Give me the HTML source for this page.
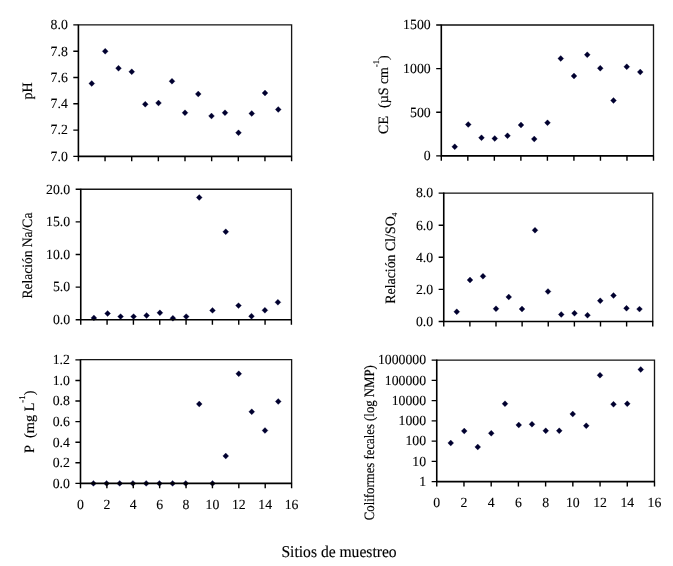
<!DOCTYPE html>
<html><head><meta charset="utf-8"><title>Chart</title>
<style>
html,body{margin:0;padding:0;background:#fff;}
body{width:673px;height:566px;overflow:hidden;}
svg{display:block;}
text{font-family:"Liberation Serif", serif;fill:#000;stroke:#000;stroke-width:0.1;text-rendering:geometricPrecision;}
</style></head><body>
<svg width="673" height="566" viewBox="0 0 673 566" font-size="14.0">
<defs><filter id="soft" x="0" y="0" width="673" height="566" filterUnits="userSpaceOnUse"><feGaussianBlur stdDeviation="0.35"/></filter><filter id="psoft" x="0" y="0" width="673" height="566" filterUnits="userSpaceOnUse"><feGaussianBlur stdDeviation="0.5"/></filter></defs>
<rect width="673" height="566" fill="#fff"/>
<g filter="url(#soft)">
<path d="M78.4 24.9H291.6V156.4" fill="none" stroke="#151515" stroke-width="1.3"/>
<path d="M78.4 24.4V156.4H292.1" fill="none" stroke="#000" stroke-width="1.6"/>
<path d="M73.30 24.9H78.4M73.30 51.2H78.4M73.30 77.5H78.4M73.30 103.8H78.4M73.30 130.1H78.4M73.30 156.4H78.4M78.40 156.4V161.30M105.05 156.4V161.30M131.70 156.4V161.30M158.35 156.4V161.30M185.00 156.4V161.30M211.65 156.4V161.30M238.30 156.4V161.30M264.95 156.4V161.30M291.60 156.4V161.30" fill="none" stroke="#000" stroke-width="1.4"/>
<text transform="translate(67.80 29.20) scale(0.985 1)" text-anchor="end">8.0</text>
<text transform="translate(67.80 55.50) scale(0.985 1)" text-anchor="end">7.8</text>
<text transform="translate(67.80 81.80) scale(0.985 1)" text-anchor="end">7.6</text>
<text transform="translate(67.80 108.10) scale(0.985 1)" text-anchor="end">7.4</text>
<text transform="translate(67.80 134.40) scale(0.985 1)" text-anchor="end">7.2</text>
<text transform="translate(67.80 160.70) scale(0.985 1)" text-anchor="end">7.0</text>
<g filter="url(#psoft)" fill="#00002e" stroke="#00003a" stroke-width="0.3"><path d="M91.75 80.55L94.70 83.50L91.75 86.45L88.80 83.50Z"/><path d="M105.20 48.35L108.15 51.30L105.20 54.25L102.25 51.30Z"/><path d="M118.50 65.30L121.45 68.25L118.50 71.20L115.55 68.25Z"/><path d="M131.75 68.80L134.70 71.75L131.75 74.70L128.80 71.75Z"/><path d="M145.25 101.30L148.20 104.25L145.25 107.20L142.30 104.25Z"/><path d="M158.50 100.05L161.45 103.00L158.50 105.95L155.55 103.00Z"/><path d="M172.00 78.30L174.95 81.25L172.00 84.20L169.05 81.25Z"/><path d="M185.00 109.80L187.95 112.75L185.00 115.70L182.05 112.75Z"/><path d="M198.25 91.05L201.20 94.00L198.25 96.95L195.30 94.00Z"/><path d="M211.50 113.05L214.45 116.00L211.50 118.95L208.55 116.00Z"/><path d="M225.00 109.80L227.95 112.75L225.00 115.70L222.05 112.75Z"/><path d="M238.50 129.80L241.45 132.75L238.50 135.70L235.55 132.75Z"/><path d="M251.75 110.55L254.70 113.50L251.75 116.45L248.80 113.50Z"/><path d="M265.00 90.05L267.95 93.00L265.00 95.95L262.05 93.00Z"/><path d="M278.25 106.55L281.20 109.50L278.25 112.45L275.30 109.50Z"/></g>
<path d="M441.3 25H653.5V155.9" fill="none" stroke="#151515" stroke-width="1.3"/>
<path d="M441.3 24.5V155.9H654.0" fill="none" stroke="#000" stroke-width="1.6"/>
<path d="M436.20 25.0H441.3M436.20 68.63H441.3M436.20 112.27H441.3M436.20 155.9H441.3M441.30 155.9V160.80M467.82 155.9V160.80M494.35 155.9V160.80M520.88 155.9V160.80M547.40 155.9V160.80M573.92 155.9V160.80M600.45 155.9V160.80M626.98 155.9V160.80M653.50 155.9V160.80" fill="none" stroke="#000" stroke-width="1.4"/>
<text transform="translate(430.70 29.30) scale(0.985 1)" text-anchor="end">1500</text>
<text transform="translate(430.70 72.93) scale(0.985 1)" text-anchor="end">1000</text>
<text transform="translate(430.70 116.57) scale(0.985 1)" text-anchor="end">500</text>
<text transform="translate(430.70 160.20) scale(0.985 1)" text-anchor="end">0</text>
<g filter="url(#psoft)" fill="#00002e" stroke="#00003a" stroke-width="0.3"><path d="M454.75 143.80L457.70 146.75L454.75 149.70L451.80 146.75Z"/><path d="M468.25 121.55L471.20 124.50L468.25 127.45L465.30 124.50Z"/><path d="M481.50 134.80L484.45 137.75L481.50 140.70L478.55 137.75Z"/><path d="M494.75 135.55L497.70 138.50L494.75 141.45L491.80 138.50Z"/><path d="M507.50 132.80L510.45 135.75L507.50 138.70L504.55 135.75Z"/><path d="M521.00 122.05L523.95 125.00L521.00 127.95L518.05 125.00Z"/><path d="M534.25 136.05L537.20 139.00L534.25 141.95L531.30 139.00Z"/><path d="M547.50 119.80L550.45 122.75L547.50 125.70L544.55 122.75Z"/><path d="M560.75 55.55L563.70 58.50L560.75 61.45L557.80 58.50Z"/><path d="M574.00 73.05L576.95 76.00L574.00 78.95L571.05 76.00Z"/><path d="M587.25 51.80L590.20 54.75L587.25 57.70L584.30 54.75Z"/><path d="M600.25 65.30L603.20 68.25L600.25 71.20L597.30 68.25Z"/><path d="M613.50 97.55L616.45 100.50L613.50 103.45L610.55 100.50Z"/><path d="M626.75 63.80L629.70 66.75L626.75 69.70L623.80 66.75Z"/><path d="M640.25 69.05L643.20 72.00L640.25 74.95L637.30 72.00Z"/></g>
<path d="M80.75 189.25H291.4V319.8" fill="none" stroke="#151515" stroke-width="1.3"/>
<g filter="url(#psoft)" fill="#00002e" stroke="#00003a" stroke-width="0.3"><path d="M93.90 314.95L96.85 317.90L93.90 320.85L90.95 317.90Z"/><path d="M107.60 310.55L110.55 313.50L107.60 316.45L104.65 313.50Z"/><path d="M120.60 313.65L123.55 316.60L120.60 319.55L117.65 316.60Z"/><path d="M133.60 313.65L136.55 316.60L133.60 319.55L130.65 316.60Z"/><path d="M146.60 312.55L149.55 315.50L146.60 318.45L143.65 315.50Z"/><path d="M159.90 309.85L162.85 312.80L159.90 315.75L156.95 312.80Z"/><path d="M172.90 315.35L175.85 318.30L172.90 321.25L169.95 318.30Z"/><path d="M186.20 313.65L189.15 316.60L186.20 319.55L183.25 316.60Z"/><path d="M199.25 194.55L202.20 197.50L199.25 200.45L196.30 197.50Z"/><path d="M212.50 307.45L215.45 310.40L212.50 313.35L209.55 310.40Z"/><path d="M225.75 228.80L228.70 231.75L225.75 234.70L222.80 231.75Z"/><path d="M238.50 302.65L241.45 305.60L238.50 308.55L235.55 305.60Z"/><path d="M251.50 313.25L254.45 316.20L251.50 319.15L248.55 316.20Z"/><path d="M264.90 307.35L267.85 310.30L264.90 313.25L261.95 310.30Z"/><path d="M277.90 299.35L280.85 302.30L277.90 305.25L274.95 302.30Z"/></g>
<path d="M80.75 188.75V319.8H291.9" fill="none" stroke="#000" stroke-width="1.6"/>
<path d="M75.65 189.25H80.75M75.65 221.89H80.75M75.65 254.53H80.75M75.65 287.16H80.75M75.65 319.8H80.75M80.75 319.8V324.70M107.08 319.8V324.70M133.41 319.8V324.70M159.74 319.8V324.70M186.07 319.8V324.70M212.41 319.8V324.70M238.74 319.8V324.70M265.07 319.8V324.70M291.40 319.8V324.70" fill="none" stroke="#000" stroke-width="1.4"/>
<text transform="translate(70.15 193.55) scale(0.985 1)" text-anchor="end">20.0</text>
<text transform="translate(70.15 226.19) scale(0.985 1)" text-anchor="end">15.0</text>
<text transform="translate(70.15 258.83) scale(0.985 1)" text-anchor="end">10.0</text>
<text transform="translate(70.15 291.46) scale(0.985 1)" text-anchor="end">5.0</text>
<text transform="translate(70.15 324.10) scale(0.985 1)" text-anchor="end">0.0</text>
<path d="M443.75 193.1H652.75V321.5" fill="none" stroke="#151515" stroke-width="1.3"/>
<path d="M443.75 192.6V321.5H653.25" fill="none" stroke="#000" stroke-width="1.6"/>
<path d="M438.65 193.1H443.75M438.65 225.2H443.75M438.65 257.3H443.75M438.65 289.4H443.75M438.65 321.5H443.75M443.75 321.5V326.40M469.88 321.5V326.40M496.00 321.5V326.40M522.12 321.5V326.40M548.25 321.5V326.40M574.38 321.5V326.40M600.50 321.5V326.40M626.62 321.5V326.40M652.75 321.5V326.40" fill="none" stroke="#000" stroke-width="1.4"/>
<text transform="translate(433.15 197.40) scale(0.985 1)" text-anchor="end">8.0</text>
<text transform="translate(433.15 229.50) scale(0.985 1)" text-anchor="end">6.0</text>
<text transform="translate(433.15 261.60) scale(0.985 1)" text-anchor="end">4.0</text>
<text transform="translate(433.15 293.70) scale(0.985 1)" text-anchor="end">2.0</text>
<text transform="translate(433.15 325.80) scale(0.985 1)" text-anchor="end">0.0</text>
<g filter="url(#psoft)" fill="#00002e" stroke="#00003a" stroke-width="0.3"><path d="M456.75 308.80L459.70 311.75L456.75 314.70L453.80 311.75Z"/><path d="M470.00 277.05L472.95 280.00L470.00 282.95L467.05 280.00Z"/><path d="M483.00 273.30L485.95 276.25L483.00 279.20L480.05 276.25Z"/><path d="M496.00 305.80L498.95 308.75L496.00 311.70L493.05 308.75Z"/><path d="M508.75 294.05L511.70 297.00L508.75 299.95L505.80 297.00Z"/><path d="M522.00 306.05L524.95 309.00L522.00 311.95L519.05 309.00Z"/><path d="M535.00 227.30L537.95 230.25L535.00 233.20L532.05 230.25Z"/><path d="M548.00 288.55L550.95 291.50L548.00 294.45L545.05 291.50Z"/><path d="M561.25 311.55L564.20 314.50L561.25 317.45L558.30 314.50Z"/><path d="M574.50 310.30L577.45 313.25L574.50 316.20L571.55 313.25Z"/><path d="M587.50 312.30L590.45 315.25L587.50 318.20L584.55 315.25Z"/><path d="M600.25 297.80L603.20 300.75L600.25 303.70L597.30 300.75Z"/><path d="M613.50 292.55L616.45 295.50L613.50 298.45L610.55 295.50Z"/><path d="M626.50 305.35L629.45 308.30L626.50 311.25L623.55 308.30Z"/><path d="M639.50 306.15L642.45 309.10L639.50 312.05L636.55 309.10Z"/></g>
<path d="M80.5 359.7H291.6V483.4" fill="none" stroke="#151515" stroke-width="1.3"/>
<g filter="url(#psoft)" fill="#00002e" stroke="#00003a" stroke-width="0.3"><path d="M93.40 480.45L96.35 483.40L93.40 486.35L90.45 483.40Z"/><path d="M106.60 480.45L109.55 483.40L106.60 486.35L103.65 483.40Z"/><path d="M119.70 480.45L122.65 483.40L119.70 486.35L116.75 483.40Z"/><path d="M132.90 480.45L135.85 483.40L132.90 486.35L129.95 483.40Z"/><path d="M146.20 480.45L149.15 483.40L146.20 486.35L143.25 483.40Z"/><path d="M159.40 480.45L162.35 483.40L159.40 486.35L156.45 483.40Z"/><path d="M172.60 480.45L175.55 483.40L172.60 486.35L169.65 483.40Z"/><path d="M185.75 480.45L188.70 483.40L185.75 486.35L182.80 483.40Z"/><path d="M199.25 401.05L202.20 404.00L199.25 406.95L196.30 404.00Z"/><path d="M212.50 480.45L215.45 483.40L212.50 486.35L209.55 483.40Z"/><path d="M225.75 453.05L228.70 456.00L225.75 458.95L222.80 456.00Z"/><path d="M238.75 370.80L241.70 373.75L238.75 376.70L235.80 373.75Z"/><path d="M251.75 408.80L254.70 411.75L251.75 414.70L248.80 411.75Z"/><path d="M265.00 427.55L267.95 430.50L265.00 433.45L262.05 430.50Z"/><path d="M278.25 398.55L281.20 401.50L278.25 404.45L275.30 401.50Z"/></g>
<path d="M80.5 359.2V483.4H292.1" fill="none" stroke="#000" stroke-width="1.6"/>
<path d="M75.40 359.9H80.5M75.40 380.48H80.5M75.40 401.07H80.5M75.40 421.65H80.5M75.40 442.23H80.5M75.40 462.82H80.5M75.40 483.4H80.5M80.50 483.4V488.30M106.89 483.4V488.30M133.28 483.4V488.30M159.66 483.4V488.30M186.05 483.4V488.30M212.44 483.4V488.30M238.83 483.4V488.30M265.21 483.4V488.30M291.60 483.4V488.30" fill="none" stroke="#000" stroke-width="1.4"/>
<text transform="translate(69.90 364.20) scale(0.985 1)" text-anchor="end">1.2</text>
<text transform="translate(69.90 384.78) scale(0.985 1)" text-anchor="end">1.0</text>
<text transform="translate(69.90 405.37) scale(0.985 1)" text-anchor="end">0.8</text>
<text transform="translate(69.90 425.95) scale(0.985 1)" text-anchor="end">0.6</text>
<text transform="translate(69.90 446.53) scale(0.985 1)" text-anchor="end">0.4</text>
<text transform="translate(69.90 467.12) scale(0.985 1)" text-anchor="end">0.2</text>
<text transform="translate(69.90 487.70) scale(0.985 1)" text-anchor="end">0.0</text>
<text transform="translate(80.50 509.0) scale(0.985 1)" text-anchor="middle">0</text>
<text transform="translate(106.89 509.0) scale(0.985 1)" text-anchor="middle">2</text>
<text transform="translate(133.28 509.0) scale(0.985 1)" text-anchor="middle">4</text>
<text transform="translate(159.66 509.0) scale(0.985 1)" text-anchor="middle">6</text>
<text transform="translate(186.05 509.0) scale(0.985 1)" text-anchor="middle">8</text>
<text transform="translate(212.44 509.0) scale(0.985 1)" text-anchor="middle">10</text>
<text transform="translate(238.83 509.0) scale(0.985 1)" text-anchor="middle">12</text>
<text transform="translate(265.21 509.0) scale(0.985 1)" text-anchor="middle">14</text>
<text transform="translate(291.60 509.0) scale(0.985 1)" text-anchor="middle">16</text>
<path d="M436.75 360.1H654.5V481.6" fill="none" stroke="#151515" stroke-width="1.3"/>
<path d="M436.75 359.6V481.6H655.0" fill="none" stroke="#000" stroke-width="1.6"/>
<path d="M431.65 360.1H436.75M431.65 380.35H436.75M431.65 400.6H436.75M431.65 420.85H436.75M431.65 441.1H436.75M431.65 461.35H436.75M431.65 481.6H436.75M436.75 481.6V486.50M463.97 481.6V486.50M491.19 481.6V486.50M518.41 481.6V486.50M545.62 481.6V486.50M572.84 481.6V486.50M600.06 481.6V486.50M627.28 481.6V486.50M654.50 481.6V486.50" fill="none" stroke="#000" stroke-width="1.4"/>
<text transform="translate(426.15 364.40) scale(0.985 1)" text-anchor="end">1000000</text>
<text transform="translate(426.15 384.65) scale(0.985 1)" text-anchor="end">100000</text>
<text transform="translate(426.15 404.90) scale(0.985 1)" text-anchor="end">10000</text>
<text transform="translate(426.15 425.15) scale(0.985 1)" text-anchor="end">1000</text>
<text transform="translate(426.15 445.40) scale(0.985 1)" text-anchor="end">100</text>
<text transform="translate(426.15 465.65) scale(0.985 1)" text-anchor="end">10</text>
<text transform="translate(426.15 485.90) scale(0.985 1)" text-anchor="end">1</text>
<text transform="translate(436.75 507.3) scale(0.985 1)" text-anchor="middle">0</text>
<text transform="translate(463.97 507.3) scale(0.985 1)" text-anchor="middle">2</text>
<text transform="translate(491.19 507.3) scale(0.985 1)" text-anchor="middle">4</text>
<text transform="translate(518.41 507.3) scale(0.985 1)" text-anchor="middle">6</text>
<text transform="translate(545.62 507.3) scale(0.985 1)" text-anchor="middle">8</text>
<text transform="translate(572.84 507.3) scale(0.985 1)" text-anchor="middle">10</text>
<text transform="translate(600.06 507.3) scale(0.985 1)" text-anchor="middle">12</text>
<text transform="translate(627.28 507.3) scale(0.985 1)" text-anchor="middle">14</text>
<text transform="translate(654.50 507.3) scale(0.985 1)" text-anchor="middle">16</text>
<g filter="url(#psoft)" fill="#00002e" stroke="#00003a" stroke-width="0.3"><path d="M450.75 440.05L453.70 443.00L450.75 445.95L447.80 443.00Z"/><path d="M464.25 428.05L467.20 431.00L464.25 433.95L461.30 431.00Z"/><path d="M477.75 444.05L480.70 447.00L477.75 449.95L474.80 447.00Z"/><path d="M491.25 430.30L494.20 433.25L491.25 436.20L488.30 433.25Z"/><path d="M505.00 400.80L507.95 403.75L505.00 406.70L502.05 403.75Z"/><path d="M518.75 422.05L521.70 425.00L518.75 427.95L515.80 425.00Z"/><path d="M532.00 421.30L534.95 424.25L532.00 427.20L529.05 424.25Z"/><path d="M545.75 427.80L548.70 430.75L545.75 433.70L542.80 430.75Z"/><path d="M559.25 427.80L562.20 430.75L559.25 433.70L556.30 430.75Z"/><path d="M572.75 411.05L575.70 414.00L572.75 416.95L569.80 414.00Z"/><path d="M586.25 422.80L589.20 425.75L586.25 428.70L583.30 425.75Z"/><path d="M600.00 372.30L602.95 375.25L600.00 378.20L597.05 375.25Z"/><path d="M613.50 401.30L616.45 404.25L613.50 407.20L610.55 404.25Z"/><path d="M627.25 400.80L630.20 403.75L627.25 406.70L624.30 403.75Z"/><path d="M640.75 366.55L643.70 369.50L640.75 372.45L637.80 369.50Z"/></g>
<text transform="translate(32.2 90.9) rotate(-90)" text-anchor="middle" font-size="14.3" style="stroke-width:0.17" textLength="17.1" lengthAdjust="spacingAndGlyphs">pH</text>
<text transform="translate(387.5 94.6) rotate(-90)" text-anchor="middle" font-size="14.3" style="stroke-width:0.17" textLength="78.6" lengthAdjust="spacingAndGlyphs">CE&#160;&#160;<tspan dx="1.3">(</tspan>µS cm<tspan dy="-8.5" font-size="8.8">-1</tspan><tspan dy="8.5">)</tspan></text>
<text transform="translate(32.4 255.6) rotate(-90)" text-anchor="middle" font-size="14.3" style="stroke-width:0.17" textLength="86" lengthAdjust="spacingAndGlyphs">Relación Na/Ca</text>
<text transform="translate(394.7 258.2) rotate(-90)" text-anchor="middle" font-size="14.3" style="stroke-width:0.17" textLength="91" lengthAdjust="spacingAndGlyphs">Relación Cl/SO<tspan dy="2.6" font-size="7.6">4</tspan></text>
<text transform="translate(33.5 421.8) rotate(-90)" text-anchor="middle" font-size="14.3" style="stroke-width:0.17">P&#160;&#160;(mg L<tspan dy="-8.5" font-size="8.8">-1</tspan><tspan dy="8.5">)</tspan></text>
<text transform="translate(374 442.7) rotate(-90)" text-anchor="middle" font-size="14.3" style="stroke-width:0.17" textLength="155" lengthAdjust="spacingAndGlyphs">Coliformes fecales (log NMP)</text>
<text transform="translate(339.05 556.9) scale(0.945 1)" text-anchor="middle" font-size="16.5" style="stroke-width:0.15">Sitios de muestreo</text>
</g>
</svg>
</body></html>
